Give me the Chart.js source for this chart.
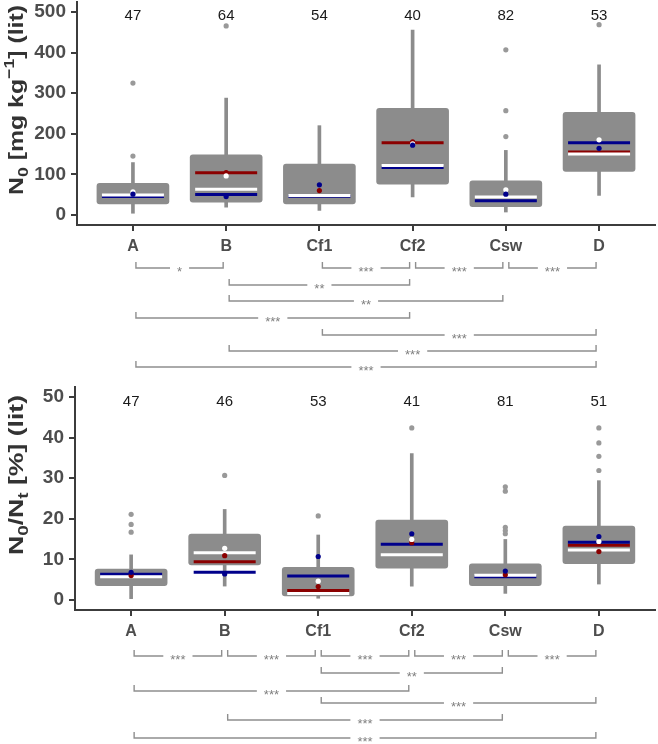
<!DOCTYPE html>
<html>
<head>
<meta charset="utf-8">
<script src="https://cdn.jsdelivr.net/npm/chart.js@4.4.1/dist/chart.umd.min.js"></script>
<style>
  html, body { margin: 0; padding: 0; background: #fff; }
  #wrap { position: relative; width: 658px; height: 744px; }
  canvas { position: absolute; left: 0; }
  #chartN0 { top: 0; }
  #chartRatio { top: 385px; }
</style>
</head>
<body>
<div id="wrap">
  <canvas id="chartN0" width="658" height="385"></canvas>
  <canvas id="chartRatio" width="658" height="359"></canvas>
</div>
<script>
const categories = ['A', 'B', 'Cf1', 'Cf2', 'Csw', 'D'];

// top panel: N0 [mg kg-1]
const n0Ticks = [0, 100, 200, 300, 400, 500];
const n0Counts = [47, 64, 54, 40, 82, 53];
const n0Low = [4, 19, 11, 44, 7, 48];
const n0Q1 = [27, 31, 27, 76, 20, 107];
const n0Q3 = [78, 148, 125, 263, 84, 253];
const n0High = [129, 288, 220, 456, 159, 370];
const n0Outliers = [[325, 145], [466], [], [], [407, 257, 193], [469]];
const n0WhiteLine = [49, 63, 48, 122, 44, 150];
const n0BlueLine = [45, 50, 46, 117, 35, 178];
const n0RedLine = [null, 104, null, 178, null, 155];
const n0WhiteDot = [57, 96, null, 175, 62, 185];
const n0BlueDot = [51, 45, 74, 172, 51, 164];
const n0RedDot = [null, 104, 60, 180, null, null];
const n0Pairs = [['A', 'B'], ['Cf1', 'Cf2'], ['Cf2', 'Csw'], ['Csw', 'D'], ['B', 'Cf2'],
                 ['B', 'Csw'], ['A', 'Cf2'], ['Cf1', 'D'], ['B', 'D'], ['A', 'D']];
const n0Signif = ['*', '***', '***', '***', '**', '**', '***', '***', '***', '***'];
const n0Rows = [0, 0, 0, 0, 1, 2, 3, 4, 5, 6];

// bottom panel: N0/Nt [%]
const ratioTicks = [0, 10, 20, 30, 40, 50];
const ratioCounts = [47, 46, 53, 41, 81, 51];
const ratioLow = [0.3, 3.4, 0.4, 3.4, 1.6, 3.9];
const ratioQ1 = [3.5, 8.6, 1.0, 7.8, 3.5, 8.9];
const ratioQ3 = [7.6, 16.2, 8.0, 19.7, 8.9, 18.2];
const ratioHigh = [11.1, 22.3, 16.0, 36.1, 14.9, 29.4];
const ratioOutliers = [[21.1, 18.6, 16.7], [30.7], [20.7], [42.4], [27.9, 26.8, 17.9, 17.1, 16.3], [42.4, 38.7, 35.4, 31.9]];
const ratioWhiteLine = [5.7, 11.6, 1.6, 11.1, 6.1, 12.3];
const ratioBlueLine = [6.3, 6.8, 5.9, 13.7, 5.7, 14.2];
const ratioRedLine = [null, 9.4, 2.3, null, null, 13.5];
const ratioWhiteDot = [null, 12.7, 4.6, 14.9, null, 14.4];
const ratioBlueDot = [6.8, 6.4, 10.7, 16.3, 7.1, 15.6];
const ratioRedDot = [6.0, 10.9, 3.3, 14.1, 6.2, 11.9];
const ratioPairs = [['A', 'B'], ['B', 'Cf1'], ['Cf1', 'Cf2'], ['Cf2', 'Csw'], ['Csw', 'D'],
                    ['Cf1', 'Csw'], ['A', 'Cf2'], ['Cf1', 'D'], ['B', 'Csw'], ['A', 'D']];
const ratioSignif = ['***', '***', '***', '***', '***', '**', '***', '***', '***', '***'];
const ratioRows = [0, 0, 0, 0, 0, 1, 2, 3, 4, 5];

const GRAY = '#8c8c8c';
const RED = '#8b0000';
const BLUE = '#00008b';
const FONT = '"Liberation Sans", Arial, sans-serif';

function pts(vals) {
    return vals.map((v, i) => v == null ? null : { x: i + 1, y: v }).filter(p => p);
}

function hline(vals, color) {
    return {
        type: 'scatter', data: pts(vals), pointStyle: 'line',
        pointRadius: 31, pointHoverRadius: 31,
        pointBorderColor: color, pointBorderWidth: 3, pointHoverBorderWidth: 3,
        pointBackgroundColor: color
    };
}

function dot(vals, color) {
    return {
        type: 'scatter', data: pts(vals), pointRadius: 2.6, pointHoverRadius: 2.6,
        pointBackgroundColor: color, pointBorderWidth: 0
    };
}

function drawTitle(ctx, parts, cx, cy, length, size) {
    ctx.save();
    ctx.translate(cx, cy);
    ctx.rotate(-Math.PI / 2);
    const fontOf = p => `bold ${p.sub || p.sup ? Math.round(size * 0.7) : size}px ${FONT}`;
    const widths = parts.map(p => { ctx.font = fontOf(p); return ctx.measureText(p.t).width; });
    const total = widths.reduce((a, b) => a + b, 0);
    ctx.scale(length / total, 1);
    ctx.fillStyle = '#333333';
    ctx.textBaseline = 'alphabetic';
    let x = -total / 2;
    parts.forEach((p, i) => {
        ctx.font = fontOf(p);
        const dy = p.sub ? size * 0.25 : p.sup ? -size * 0.42 : 0;
        ctx.fillText(p.t, x, size * 0.36 + dy);
        x += widths[i];
    });
    ctx.restore();
}

function makePanel(id, p) {
    const datasets = [
        { type: 'bar', data: categories.map((c, i) => ({ x: i + 1, y: [p.low[i], p.high[i]] })),
          backgroundColor: GRAY, barThickness: 3, grouped: false },
        { type: 'bar', data: categories.map((c, i) => ({ x: i + 1, y: [p.q1[i], p.q3[i]] })),
          backgroundColor: GRAY, barThickness: 72, borderRadius: 3, borderSkipped: false, grouped: false },
        { type: 'scatter', data: p.outliers.flatMap((arr, i) => arr.map(v => ({ x: i + 1, y: v }))),
          pointRadius: 2.6, pointHoverRadius: 2.6, pointBackgroundColor: '#999999', pointBorderWidth: 0 },
        hline(p.redLine, RED),
        hline(p.blueLine, BLUE),
        hline(p.whiteLine, '#ffffff'),
        dot(p.redDot, RED),
        dot(p.whiteDot, '#ffffff'),
        dot(p.blueDot, BLUE)
    ];
    // first in list is painted first
    datasets.forEach((d, i) => { d.order = datasets.length - i; });

    const decor = {
        id: 'decor',
        afterDraw(chart) {
            const ctx = chart.ctx;
            const xs = chart.scales.x, ys = chart.scales.y;
            // counts on top
            ctx.save();
            ctx.font = `15px ${FONT}`;
            ctx.fillStyle = '#1a1a1a';
            ctx.textAlign = 'center';
            ctx.textBaseline = 'middle';
            p.counts.forEach((n, i) => ctx.fillText(String(n), xs.getPixelForValue(i + 1), ys.getPixelForValue(p.countY)));
            ctx.restore();

            // significance brackets
            ctx.save();
            ctx.strokeStyle = '#8f8f8f';
            ctx.lineWidth = 1.4;
            ctx.font = `13px ${FONT}`;
            ctx.fillStyle = '#7f7f7f';
            ctx.textAlign = 'center';
            p.pairs.forEach((pair, k) => {
                const x1 = xs.getPixelForValue(categories.indexOf(pair[0]) + 1) + 3;
                const x2 = xs.getPixelForValue(categories.indexOf(pair[1]) + 1) - 3;
                const y = p.rowY[p.rows[k]];
                const mid = (x1 + x2) / 2;
                const gap = ctx.measureText(p.signif[k]).width / 2 + 7;
                ctx.beginPath();
                ctx.moveTo(x1, y - 6); ctx.lineTo(x1, y); ctx.lineTo(mid - gap, y);
                ctx.moveTo(mid + gap, y); ctx.lineTo(x2, y); ctx.lineTo(x2, y - 6);
                ctx.stroke();
                ctx.fillText(p.signif[k], mid, y + 8);
            });
            ctx.restore();

            drawTitle(ctx, p.title, p.titleX, p.titleY, p.titleLen, 21);
        }
    };

    return new Chart(document.getElementById(id), {
        type: 'bar',
        data: { datasets },
        options: {
            responsive: false,
            animation: false,
            events: [],
            layout: { autoPadding: false, padding: { top: 2, right: 3, bottom: p.padBottom, left: 0 } },
            plugins: { legend: { display: false }, tooltip: { enabled: false } },
            scales: {
                x: {
                    type: 'linear', min: 0.4, max: 6.6, offset: false,
                    afterBuildTicks: s => { s.ticks = categories.map((c, i) => ({ value: i + 1 })); },
                    afterFit: s => { s.height = 35; s.paddingLeft = 0; s.paddingRight = 0; },
                    ticks: {
                        callback: v => categories[v - 1], autoSkip: false, maxRotation: 0,
                        font: { family: FONT, size: 16, weight: 'bold' }, color: '#4d4d4d', padding: 6
                    },
                    grid: { drawOnChartArea: false, offset: false, tickLength: 6, color: '#3c3c3c', lineWidth: 2 },
                    border: { color: '#3c3c3c', width: 2 }
                },
                y: {
                    min: p.yMin, max: p.yMax,
                    afterBuildTicks: s => { s.ticks = p.ticks.map(v => ({ value: v })); },
                    afterFit: s => { s.width = p.axisLeft; s.paddingTop = 0; s.paddingBottom = 0; },
                    ticks: { font: { family: FONT, size: 19, weight: 'bold' }, color: '#4d4d4d', padding: 5 },
                    grid: { drawOnChartArea: false, tickLength: 6, color: '#3c3c3c', lineWidth: 2 },
                    border: { color: '#3c3c3c', width: 2 }
                }
            }
        },
        plugins: [decor]
    });
}

makePanel('chartN0', {
    ticks: n0Ticks, counts: n0Counts, low: n0Low, q1: n0Q1, q3: n0Q3, high: n0High,
    outliers: n0Outliers, whiteLine: n0WhiteLine, blueLine: n0BlueLine, redLine: n0RedLine,
    whiteDot: n0WhiteDot, blueDot: n0BlueDot, redDot: n0RedDot,
    pairs: n0Pairs, signif: n0Signif, rows: n0Rows,
    rowY: [268, 285, 301, 318, 335, 351, 367],
    yMin: -25, yMax: 525, countY: 492, axisLeft: 77, padBottom: 125,
    title: [{ t: 'N' }, { t: '0', sub: true }, { t: ' [mg kg' }, { t: '\u22121', sup: true }, { t: '] (lit)' }],
    titleX: 15, titleY: 100, titleLen: 190
});

makePanel('chartRatio', {
    ticks: ratioTicks, counts: ratioCounts, low: ratioLow, q1: ratioQ1, q3: ratioQ3, high: ratioHigh,
    outliers: ratioOutliers, whiteLine: ratioWhiteLine, blueLine: ratioBlueLine, redLine: ratioRedLine,
    whiteDot: ratioWhiteDot, blueDot: ratioBlueDot, redDot: ratioRedDot,
    pairs: ratioPairs, signif: ratioSignif, rows: ratioRows,
    rowY: [271, 288, 306, 318, 335, 353],
    yMin: -2.5, yMax: 52.5, countY: 48.8, axisLeft: 75, padBottom: 99,
    title: [{ t: 'N' }, { t: '0', sub: true }, { t: '/N' }, { t: 't', sub: true }, { t: ' [%] (lit)' }],
    titleX: 15, titleY: 90, titleLen: 160
});
</script>
</body>
</html>
